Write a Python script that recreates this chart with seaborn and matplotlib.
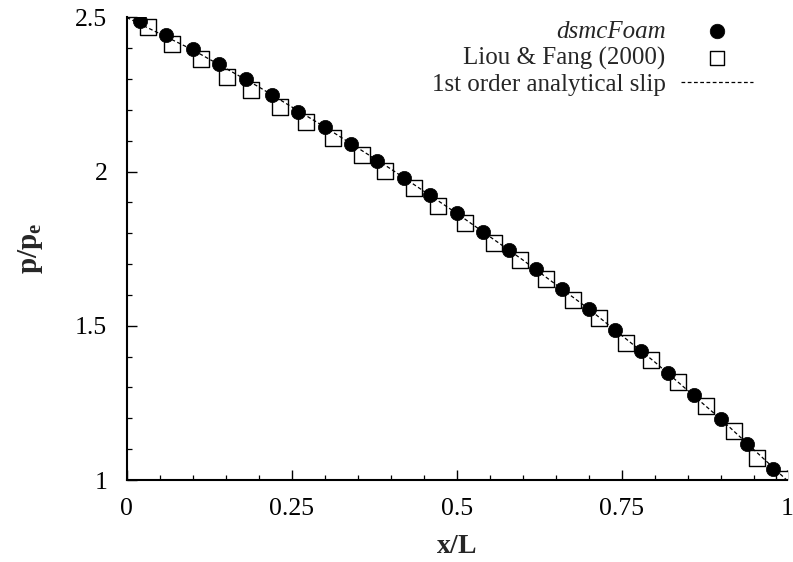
import matplotlib
matplotlib.use("Agg")
import matplotlib.pyplot as plt
import seaborn as sns
import numpy as np
import pandas as pd
from matplotlib.ticker import MultipleLocator, FixedLocator, FixedFormatter

# ---- data ----
dsmc_x = [0.02, 0.06, 0.10, 0.14, 0.18, 0.22, 0.26, 0.30, 0.34, 0.38, 0.42, 0.46, 0.50,
          0.54, 0.58, 0.62, 0.66, 0.70, 0.74, 0.78, 0.82, 0.86, 0.90, 0.94, 0.98]
dsmc_p = [2.490, 2.444, 2.397, 2.349, 2.301, 2.249, 2.195, 2.144, 2.091, 2.036, 1.981, 1.923, 1.865,
          1.805, 1.745, 1.683, 1.621, 1.555, 1.488, 1.418, 1.348, 1.275, 1.198, 1.118, 1.037]

liou_x = [0.032, 0.069, 0.113, 0.152, 0.188, 0.232, 0.271, 0.312, 0.356, 0.392, 0.436, 0.471, 0.512,
          0.556, 0.596, 0.635, 0.676, 0.716, 0.757, 0.795, 0.835, 0.878, 0.920, 0.955, 0.996]
liou_p = [2.468, 2.415, 2.365, 2.307, 2.265, 2.210, 2.161, 2.110, 2.054, 2.003, 1.947, 1.890, 1.833,
          1.769, 1.713, 1.652, 1.585, 1.525, 1.443, 1.388, 1.318, 1.239, 1.160, 1.070, 1.002]

slip_x = [0.0, 0.1, 0.2, 0.3, 0.4, 0.5, 0.6, 0.7, 0.8, 0.9, 1.0]
slip_p = [2.500, 2.395, 2.275, 2.145, 2.009, 1.865, 1.714, 1.555, 1.383, 1.198, 1.000]

x_ticks = [0, 0.25, 0.5, 0.75, 1]
x_tick_labels = ["0", "0.25", "0.5", "0.75", "1"]
y_ticks = [1, 1.5, 2, 2.5]
y_tick_labels = ["1", "1.5", "2", "2.5"]

labels = ["dsmcFoam", "Liou & Fang (2000)", "1st order analytical slip"]

# ---- style ----
sns.set_theme(style="ticks")
plt.rcParams["font.family"] = ["Liberation Serif", "DejaVu Serif"]
plt.rcParams["mathtext.fontset"] = "custom"
plt.rcParams["mathtext.rm"] = "Liberation Serif"
plt.rcParams["mathtext.it"] = "Liberation Serif:italic"
plt.rcParams["mathtext.bf"] = "Liberation Serif:bold"

fig = plt.figure(figsize=(7.93, 5.62), dpi=100)
ax = fig.add_axes([0.1598, 0.1459, 0.992 - 0.1598, 0.9689 - 0.1459])

df_dsmc = pd.DataFrame({"x": dsmc_x, "p": dsmc_p})
df_liou = pd.DataFrame({"x": liou_x, "p": liou_p})
df_slip = pd.DataFrame({"x": slip_x, "p": slip_p})

sns.scatterplot(data=df_liou, x="x", y="p", ax=ax, marker="s", s=118,
                facecolor="white", edgecolor="black", linewidth=1.0,
                label=labels[1], zorder=2)
sns.lineplot(data=df_slip, x="x", y="p", ax=ax, color="black", linewidth=0.9,
             linestyle=(0, (3, 2)), label=labels[2], zorder=3)
sns.scatterplot(data=df_dsmc, x="x", y="p", ax=ax, marker="o", s=105,
                color="black", edgecolor="black", linewidth=0.5,
                label=labels[0], zorder=4)

ax.set_xlim(0, 1)
ax.set_ylim(1, 2.5)
ax.xaxis.set_major_locator(FixedLocator(x_ticks))
ax.xaxis.set_major_formatter(FixedFormatter(x_tick_labels))
ax.yaxis.set_major_locator(FixedLocator(y_ticks))
ax.yaxis.set_major_formatter(FixedFormatter(y_tick_labels))
ax.xaxis.set_minor_locator(MultipleLocator(0.05))
ax.yaxis.set_minor_locator(MultipleLocator(0.1))
ax.tick_params(which="major", direction="in", length=7, width=1.0, labelsize=18.5,
               colors="black", pad=13)
ax.tick_params(which="minor", direction="in", length=3.5, width=0.9, colors="black")
ax.tick_params(axis="y", which="major", pad=14)

for s in ["top", "right"]:
    ax.spines[s].set_visible(False)
for s in ["left", "bottom"]:
    ax.spines[s].set_linewidth(1.5)
    ax.spines[s].set_color("black")

ax.set_xlabel(r"$\mathbf{x/L}$", fontsize=20, labelpad=10)
ax.set_ylabel(r"$\mathbf{p/p_e}$", fontsize=21, labelpad=22)

handles, labs = ax.get_legend_handles_labels()
order = [labs.index(l) for l in labels]
leg = ax.legend([handles[i] for i in order], [labs[i] for i in order],
                loc="upper right", bbox_to_anchor=(753 / 793, 1 - 20 / 562),
                bbox_transform=fig.transFigure, frameon=False, markerfirst=False,
                fontsize=18, handlelength=2.9, handletextpad=0.6, labelspacing=0.16,
                borderpad=0, borderaxespad=0)
for t in leg.get_texts():
    t.set_ha("right")
leg.get_texts()[0].set_style("italic")
leg.legend_handles[0].set_sizes([110])
leg.legend_handles[1].set_sizes([90])

fig.savefig("out.png", dpi=100)
